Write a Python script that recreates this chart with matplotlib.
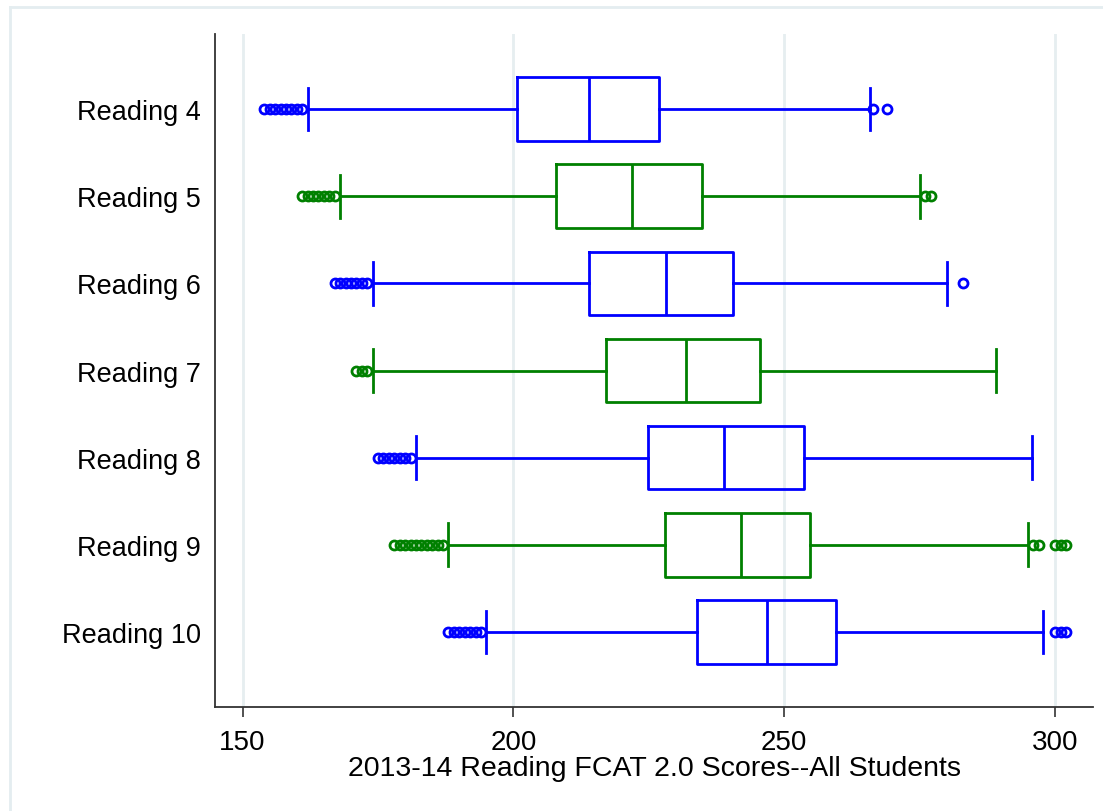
import matplotlib
matplotlib.use('Agg')
import matplotlib.pyplot as plt
from matplotlib.lines import Line2D

plt.rcParams['font.family'] = ['Liberation Sans', 'DejaVu Sans']

labels = ['Reading 4', 'Reading 5', 'Reading 6', 'Reading 7',
          'Reading 8', 'Reading 9', 'Reading 10']
whislo = [162, 168, 174, 174, 182, 188, 195]
q1 = [200.6, 207.8, 214, 217, 224.8, 227.9, 233.9]
med = [214, 221.8, 228.1, 231.8, 238.8, 242.1, 246.8]
q3 = [226.8, 234.8, 240.6, 245.5, 253.7, 254.8, 259.6]
whishi = [265.8, 275, 280, 289, 295.8, 295, 297.8]
fliers_low = [
    [154, 155, 156, 157, 158, 159, 160, 161],
    [161, 162, 163, 164, 165, 166, 167],
    [167, 168, 169, 170, 171, 172, 173],
    [171, 172, 173],
    [175, 176, 177, 178, 179, 180, 181],
    [178, 179, 180, 181, 182, 183, 184, 185, 186, 187],
    [188, 189, 190, 191, 192, 193, 194],
]
fliers_high = [
    [266.3, 269],
    [276, 277],
    [283],
    [],
    [],
    [296, 297, 300, 301, 302],
    [300, 301, 302],
]
colors = ['#0000ff', '#008000'] * 4

fig = plt.figure(figsize=(11.03, 8.12), dpi=100)
ax = fig.add_axes([215 / 1103, 104 / 812, 878 / 1103, 673 / 812])

# light outer frame like the Stata graph region
fig.add_artist(Line2D([10 / 1103, 1], [1 - 8 / 812, 1 - 8 / 812],
                      transform=fig.transFigure, color='#e4edf0', lw=2))
fig.add_artist(Line2D([10 / 1103, 10 / 1103], [0, 1 - 8 / 812],
                      transform=fig.transFigure, color='#e4edf0', lw=2))

for i in range(len(labels)):
    stats = [dict(label=labels[i], whislo=whislo[i], q1=q1[i], med=med[i],
                  q3=q3[i], whishi=whishi[i],
                  fliers=fliers_low[i] + fliers_high[i])]
    c = colors[i]
    ax.bxp(stats, positions=[i + 1], widths=0.73, capwidths=0.49,
           orientation='horizontal',
           boxprops=dict(color=c, lw=2),
           medianprops=dict(color=c, lw=2),
           whiskerprops=dict(color=c, lw=2),
           capprops=dict(color=c, lw=2),
           flierprops=dict(marker='o', markerfacecolor='none',
                           markeredgecolor=c, markersize=6.5,
                           markeredgewidth=2, linestyle='none'))

ax.set_xlim(144.9, 307)
ax.set_ylim(7.86, 0.14)
ax.set_yticks(range(1, len(labels) + 1))
ax.set_yticklabels(labels)
ax.set_xticks([150, 200, 250, 300])
ax.tick_params(axis='y', length=0, pad=10, labelsize=19.5)
ax.tick_params(axis='x', length=7, width=1.2, color='#333333', pad=9,
               labelsize=20)
ax.grid(axis='x', color='#e6eef0', lw=2)
ax.set_axisbelow(True)
for s in ['top', 'right']:
    ax.spines[s].set_visible(False)
for s in ['left', 'bottom']:
    ax.spines[s].set_color('#333333')
    ax.spines[s].set_linewidth(1.3)

ax.set_xlabel('2013-14 Reading FCAT 2.0 Scores--All Students', fontsize=20.5,
              labelpad=0)

fig.savefig('out.png', dpi=100)
